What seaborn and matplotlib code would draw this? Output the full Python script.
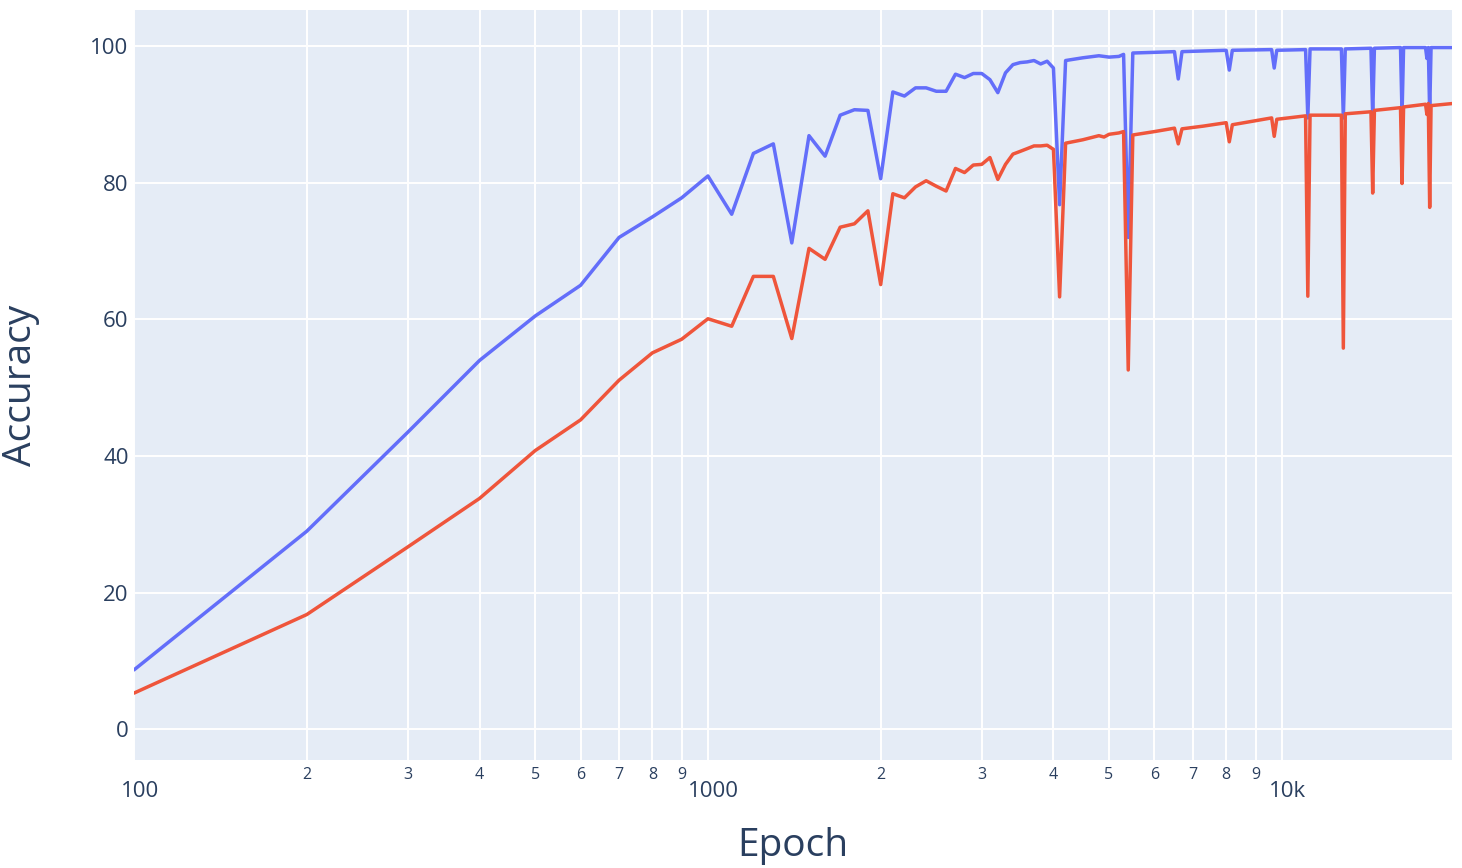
import matplotlib
matplotlib.use("Agg")
import matplotlib.pyplot as plt
import matplotlib.transforms as mtransforms
import pandas as pd
import seaborn as sns


# Accuracy per epoch (log x axis)
epochs = [
    100, 200, 300, 400, 500, 600, 700, 800, 900, 1000,
    1100, 1200, 1300, 1400, 1500, 1600, 1700, 1800, 1900, 2000,
    2100, 2200, 2300, 2400, 2500, 2600, 2700, 2800, 2900, 3000,
    3100, 3200, 3300, 3400, 3500, 3600, 3700, 3800, 3900, 4000,
    4100, 4200, 4500, 4800, 4900, 5000, 5200, 5300, 5400, 5500,
    6000, 6500, 6600, 6700, 7300, 8000, 8100, 8200, 9600, 9700,
    9800, 11000, 11100, 11200, 12700, 12800, 12900, 14300, 14400, 14500,
    16100, 16200, 16300, 17800, 17900, 18000, 18100, 18200, 19800,
]
train_accuracy = [
    8.7, 29.0, 43.5, 54.0, 60.5, 65.0, 72.0, 75.0, 77.8, 81.0,
    75.4, 84.3, 85.7, 71.2, 86.9, 83.9, 89.9, 90.7, 90.6, 80.6,
    93.3, 92.7, 93.9, 93.9, 93.4, 93.4, 95.9, 95.4, 96.0, 96.0,
    95.1, 93.2, 96.1, 97.3, 97.6, 97.7, 97.9, 97.4, 97.8, 96.8,
    76.8, 97.9, 98.3, 98.6, 98.5, 98.4, 98.5, 98.8, 72.0, 99.0,
    99.1, 99.2, 95.2, 99.2, 99.3, 99.4, 96.5, 99.4, 99.5, 96.8,
    99.4, 99.5, 89.5, 99.6, 99.6, 89.5, 99.6, 99.7, 89.8, 99.7,
    99.8, 90.0, 99.8, 99.8, 98.2, 99.8, 90.2, 99.8, 99.8,
]
test_accuracy = [
    5.3, 16.8, 26.7, 33.8, 40.8, 45.3, 51.1, 55.1, 57.1, 60.1,
    59.0, 66.3, 66.3, 57.2, 70.4, 68.8, 73.5, 74.0, 75.9, 65.1,
    78.4, 77.8, 79.4, 80.3, 79.5, 78.8, 82.1, 81.5, 82.6, 82.7,
    83.7, 80.5, 82.7, 84.2, 84.6, 85.0, 85.4, 85.4, 85.5, 84.9,
    63.3, 85.8, 86.3, 86.9, 86.7, 87.1, 87.3, 87.5, 52.6, 87.0,
    87.5, 88.0, 85.7, 87.9, 88.3, 88.8, 86.0, 88.5, 89.5, 86.8,
    89.3, 89.8, 63.4, 89.9, 89.9, 55.8, 90.1, 90.4, 78.5, 90.6,
    91.0, 79.9, 91.1, 91.5, 90.0, 91.6, 76.4, 91.3, 91.6,
]

y_ticks = [0, 20, 40, 60, 80, 100]
major_ticks = [100, 1000, 10000]
major_labels = ["100", "1000", "10k"]
minor_ticks = [200, 300, 400, 500, 600, 700, 800, 900,
               2000, 3000, 4000, 5000, 6000, 7000, 8000, 9000]
minor_labels = ["2", "3", "4", "5", "6", "7", "8", "9",
                "2", "3", "4", "5", "6", "7", "8", "9"]

# plotly default look
text_color = "#2a3f5f"
train_color = "#636efa"
test_color = "#ef553b"

sns.set_theme(style="darkgrid", rc={
    "axes.facecolor": "#e5ecf6",
    "grid.color": "white",
    "grid.linewidth": 1.4,
    "text.color": text_color,
    "axes.labelcolor": text_color,
    "xtick.color": text_color,
    "ytick.color": text_color,
})
plt.rcParams["font.family"] = ["Open Sans", "DejaVu Sans"]

data = pd.DataFrame({
    "epoch": epochs,
    "train": train_accuracy,
    "test": test_accuracy,
})

figure = plt.figure(figsize=(14.62, 8.68), dpi=100)
axes = figure.add_axes([0.0917, 0.1244, 0.9015, 0.8641])

sns.lineplot(data=data, x="epoch", y="train", color=train_color,
             linewidth=2.5, estimator=None, ax=axes)
sns.lineplot(data=data, x="epoch", y="test", color=test_color,
             linewidth=2.5, estimator=None, ax=axes)

axes.set_xscale("log")
axes.set_xlim(100, 19800)
axes.set_ylim(-4.5, 105.3)

axes.set_yticks(y_ticks)
axes.set_xticks(major_ticks, labels=major_labels)
axes.set_xticks(minor_ticks, labels=minor_labels, minor=True)
axes.grid(True, which="minor", axis="x", color="white", linewidth=1.4)
axes.grid(True, which="major", color="white", linewidth=1.4)

axes.tick_params(axis="y", which="major", length=0, pad=4, labelsize=16)
axes.tick_params(axis="x", which="major", length=0, pad=15, labelsize=16)
axes.tick_params(axis="x", which="minor", length=0, pad=5, labelsize=11.5)

# plotly nudges the decade labels a little to the right
shift = mtransforms.ScaledTranslation(0.055, 0, figure.dpi_scale_trans)
for label in axes.get_xticklabels():
    label.set_transform(label.get_transform() + shift)

axes.set_xlabel("Epoch", fontsize=28, labelpad=18)
axes.set_ylabel("Accuracy", fontsize=28, labelpad=36)

for spine in axes.spines.values():
    spine.set_visible(False)

plt.savefig("out.png", dpi=100, facecolor="white")
